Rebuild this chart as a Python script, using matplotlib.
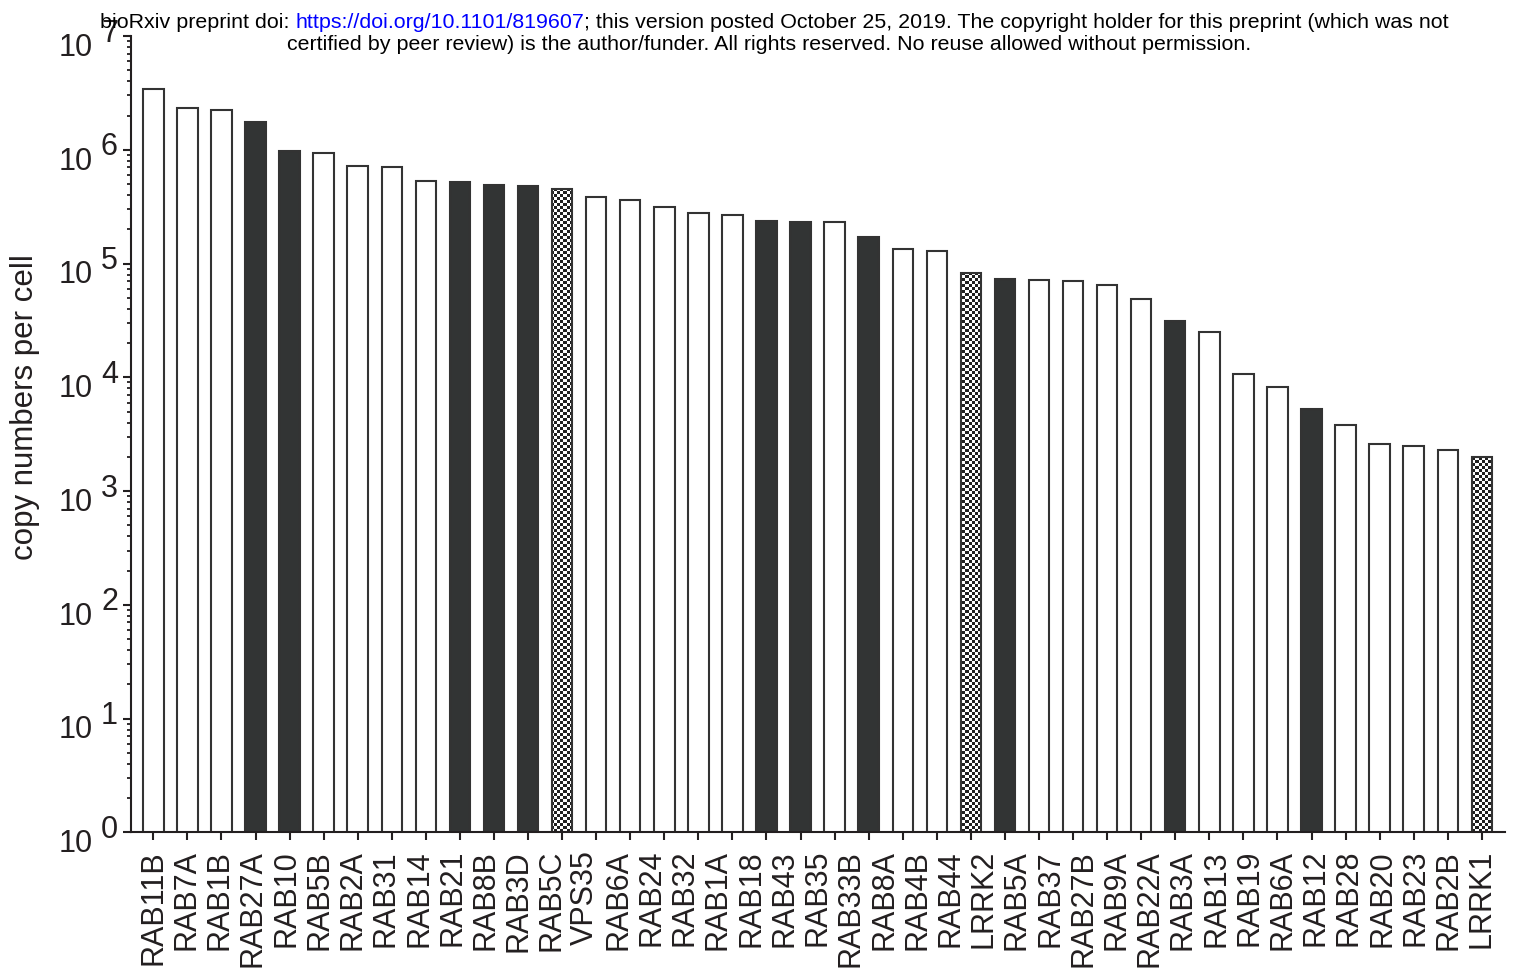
import numpy as np
import matplotlib.pyplot as plt
from matplotlib import ticker, transforms

plt.rcParams['font.family'] = ['Liberation Sans', 'DejaVu Sans']

# copy numbers per cell, one value per bar
copies = [3.41e6, 2.35e6, 2.25e6, 1.74e6, 9.8e5, 9.38e5, 7.18e5, 7.03e5,
          5.27e5, 5.16e5, 4.93e5, 4.76e5, 4.52e5, 3.84e5, 3.64e5, 3.12e5,
          2.80e5, 2.67e5, 2.38e5, 2.33e5, 2.30e5, 1.70e5, 1.34e5, 1.29e5,
          8.2e4, 7.26e4, 7.16e4, 7.02e4, 6.52e4, 4.88e4, 3.12e4, 2.50e4,
          1.07e4, 8.21e3, 5.26e3, 3.80e3, 2.59e3, 2.47e3, 2.28e3, 2.00e3]

# bar fill: open, solid or checkered
fills = ["open", "open", "open", "solid", "solid", "open", "open", "open",
         "open", "solid", "solid", "solid", "check", "open", "open", "open",
         "open", "open", "solid", "solid", "open", "solid", "open", "open",
         "check", "solid", "open", "open", "open", "open", "solid", "open",
         "open", "open", "solid", "open", "open", "open", "open", "check"]

names = ["RAB11B", "RAB7A", "RAB1B", "RAB27A", "RAB10", "RAB5B", "RAB2A",
         "RAB31", "RAB14", "RAB21", "RAB8B", "RAB3D", "RAB5C", "VPS35",
         "RAB6A", "RAB24", "RAB32", "RAB1A", "RAB18", "RAB43", "RAB35",
         "RAB33B", "RAB8A", "RAB4B", "RAB44", "LRRK2", "RAB5A", "RAB37",
         "RAB27B", "RAB9A", "RAB22A", "RAB3A", "RAB13", "RAB19", "RAB6A",
         "RAB12", "RAB28", "RAB20", "RAB23", "RAB2B", "LRRK1"]

decades = list(range(0, 8))

DARK = "#323434"
EDGE = "#333333"
INK = "#231f20"

W, H = 1514, 969
fig = plt.figure(figsize=(W / 100, H / 100), dpi=100)
ax = fig.add_axes([131 / W, 1 - 832.3 / H, (1505 - 131) / W, (832.3 - 36) / H])

x = np.arange(len(copies))
face = [DARK if f == "solid" else ("none" if f == "check" else "white") for f in fills]
bars = ax.bar(x, copies, width=0.6, color=face, edgecolor=EDGE,
              linewidth=1.5, zorder=2)

ax.set_yscale("log")

# checkerboard fill, clipped to its bar
ny, nx = 266, 458
board = np.indices((ny, nx)).sum(axis=0) % 2
for b, f in zip(bars, fills):
    if f != "check":
        continue
    im = ax.imshow(board, cmap="gray", vmin=-0.15, vmax=1,
                   extent=(0, 1, 0, 1), transform=ax.transAxes,
                   aspect="auto", interpolation="nearest", zorder=1)
    im.set_clip_path(b)
ax.set_ylim(1, 1e7)
ax.set_xlim(-0.655, len(copies) - 1 + 0.68)

for s in ["top", "right"]:
    ax.spines[s].set_visible(False)
for s in ["left", "bottom"]:
    ax.spines[s].set_linewidth(1.5)
    ax.spines[s].set_color(INK)

# y axis: decades with 2..9 minor ticks, labels drawn by hand below
ax.yaxis.set_major_locator(ticker.FixedLocator([10.0 ** k for k in decades]))
ax.yaxis.set_minor_locator(ticker.LogLocator(base=10, subs=np.arange(2, 10), numticks=20))
ax.yaxis.set_major_formatter(ticker.NullFormatter())
ax.yaxis.set_minor_formatter(ticker.NullFormatter())
ax.tick_params(axis="y", which="major", length=5.8, width=1.5, color=INK)
ax.tick_params(axis="y", which="minor", length=3.2, width=1.3, color=INK)

blend = transforms.blended_transform_factory(ax.transAxes, ax.transData)
off_base = transforms.ScaledTranslation(-27.4 / 72, -8.6 / 72, fig.dpi_scale_trans)
off_exp = transforms.ScaledTranslation(-9.4 / 72, 1.8 / 72, fig.dpi_scale_trans)
for k in decades:
    ax.text(0, 10.0 ** k, "10", transform=blend + off_base, ha="right",
            va="center", fontsize=22, color=INK, clip_on=False)
    ax.text(0, 10.0 ** k, str(k), transform=blend + off_exp, ha="right",
            va="center", fontsize=22, color=INK, clip_on=False)

# x axis: tick marks at bars, names spread over the same span
ax.xaxis.remove_overlapping_locs = False
ax.set_xticks(x)
ax.set_xticklabels([])
ax.tick_params(axis="x", which="major", length=5.8, width=1.5, color=INK)
ax.set_xticks(np.linspace(0, len(copies) - 1, len(names)), minor=True)
ax.set_xticklabels(names, minor=True, rotation=90, fontsize=22, color=INK)
ax.tick_params(axis="x", which="minor", length=0, pad=12.7)

fig.text(25 / W, 1 - 407.5 / H, "copy numbers per cell", rotation=90,
         ha="center", va="center", fontsize=22.5, color=INK)

# preprint header
renderer = fig.canvas.get_renderer()
hx = 100
for txt, col in [("bioRxiv preprint doi: ", "black"),
                 ("https://doi.org/10.1101/819607", "#0000ff"),
                 ("; this version posted October 25, 2019. The copyright holder for this preprint (which was not", "black")]:
    t = fig.text(hx / W, 1 - 28 / H, txt, color=col, fontsize=15.4, va="baseline")
    hx += t.get_window_extent(renderer).width
fig.text(769.5 / W, 1 - 50 / H,
         "certified by peer review) is the author/funder. All rights reserved. No reuse allowed without permission.",
         ha="center", va="baseline", fontsize=15.4, color="black")

fig.savefig("out.png", dpi=100)
